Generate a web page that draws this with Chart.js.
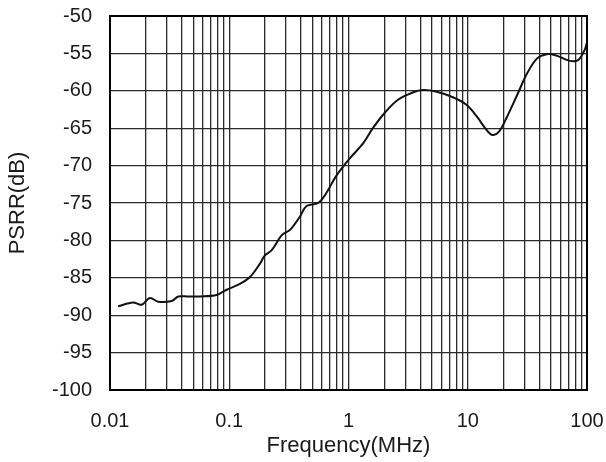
<!DOCTYPE html>
<html>
<head>
<meta charset="utf-8">
<script src="https://cdn.jsdelivr.net/npm/chart.js@4/dist/chart.umd.min.js"></script>
<style>
  html, body { margin: 0; padding: 0; background: #fff; }
  #wrap { width: 606px; height: 462px; }
</style>
</head>
<body>
<div id="wrap"><canvas id="psrrChart" width="606" height="462"></canvas></div>
<script>
'use strict';

// DATA
// ====
var freqMHz = [0.0117, 0.0156, 0.0184, 0.0216, 0.0254, 0.0329, 0.0374, 0.0454, 0.0568, 0.0782,
               0.095, 0.123, 0.149, 0.181, 0.199, 0.227, 0.276, 0.323, 0.392, 0.445,
               0.556, 0.65, 0.78, 1.03, 1.33, 1.6, 2.0, 2.6, 3.5, 4.2,
               5.4, 7.6, 9.8, 12.0, 14.0, 16.0, 18.2, 21.3, 25.9, 31.4,
               38.0, 45.9, 55.6, 71.6, 84.2, 95.8, 100];
var psrrDb = [-88.8, -88.3, -88.6, -87.7, -88.2, -88.1, -87.5, -87.5, -87.5, -87.3,
              -86.6, -85.8, -84.9, -83.1, -82.0, -81.3, -79.3, -78.6, -76.8, -75.4,
              -75.0, -73.7, -71.5, -69.0, -67.0, -65.0, -63.0, -61.2, -60.2, -59.9,
              -60.1, -60.9, -61.9, -63.5, -65.0, -65.9, -65.5, -63.5, -60.6, -57.7,
              -55.7, -55.1, -55.3, -56.0, -55.9, -54.5, -53.5];

var decadeTicks = [0.01, 0.1, 1, 10, 100];
var decadeLabels = ['0.01', '0.1', '1', '10', '100'];
var minorSteps = [2, 3, 4, 5, 6, 7, 8, 9];

// build full list of log grid positions (decades + 2..9)
var xGridTicks = [];
decadeTicks.forEach(function (d, i) {
    xGridTicks.push(d);
    if (i < decadeTicks.length - 1) {
        minorSteps.forEach(function (m) { xGridTicks.push(+(d * m).toPrecision(3)); });
    }
});

var textColor = '#1a1a1a';
var gridColor = '#2a2a2a';
var fontFamily = "'Liberation Sans', Arial, sans-serif";

var points = freqMHz.map(function (f, i) { return { x: f, y: psrrDb[i] }; });

var ctx = document.getElementById('psrrChart');
var psrrChart = new Chart(ctx, {
    type: 'line',
    data: {
        datasets: [{
            data: points,
            borderColor: '#111',
            borderWidth: 2,
            pointRadius: 0,
            fill: false,
            tension: 0.35
        }]
    },
    options: {
        responsive: false,
        animation: false,
        layout: { padding: { top: 16, right: 19, left: 0, bottom: 0 } },
        plugins: {
            legend: { display: false },
            tooltip: { enabled: false }
        },
        scales: {
            x: {
                type: 'logarithmic',
                min: 0.01,
                max: 100,
                afterBuildTicks: function (scale) {
                    scale.ticks = xGridTicks.map(function (v) { return { value: v }; });
                },
                afterFit: function (scale) {
                    scale.height = 72;
                    scale.paddingLeft = 0;
                    scale.paddingRight = 0;
                },
                ticks: {
                    autoSkip: false,
                    maxRotation: 0,
                    padding: 19,
                    color: textColor,
                    font: { family: fontFamily, size: 20 },
                    callback: function (value) {
                        var idx = decadeTicks.indexOf(value);
                        return idx >= 0 ? decadeLabels[idx] : '';
                    }
                },
                grid: { color: gridColor, lineWidth: 1.3, drawTicks: false },
                border: { color: '#000', width: 2 },
                title: {
                    display: true,
                    text: 'Frequency(MHz)',
                    color: textColor,
                    font: { family: fontFamily, size: 22 },
                    padding: { top: 0, bottom: 3 }
                }
            },
            y: {
                min: -100,
                max: -50,
                afterFit: function (scale) {
                    scale.width = 110;
                    scale.paddingTop = 0;
                    scale.paddingBottom = 0;
                },
                ticks: {
                    stepSize: 5,
                    padding: 18,
                    color: textColor,
                    font: { family: fontFamily, size: 20 }
                },
                grid: { color: gridColor, lineWidth: 1.3, drawTicks: false },
                border: { color: '#000', width: 2 },
                title: {
                    display: true,
                    text: 'PSRR(dB)',
                    color: textColor,
                    font: { family: fontFamily, size: 22 },
                    padding: { top: 5, bottom: 0 }
                }
            }
        }
    },
    plugins: [{
        // close the frame on the top and right edges
        id: 'frame',
        afterDraw: function (chart) {
            var a = chart.chartArea, c = chart.ctx;
            c.save();
            c.strokeStyle = '#000';
            c.lineWidth = 2;
            c.strokeRect(a.left, a.top, a.right - a.left, a.bottom - a.top);
            c.restore();
        }
    }]
});
</script>
</body>
</html>
